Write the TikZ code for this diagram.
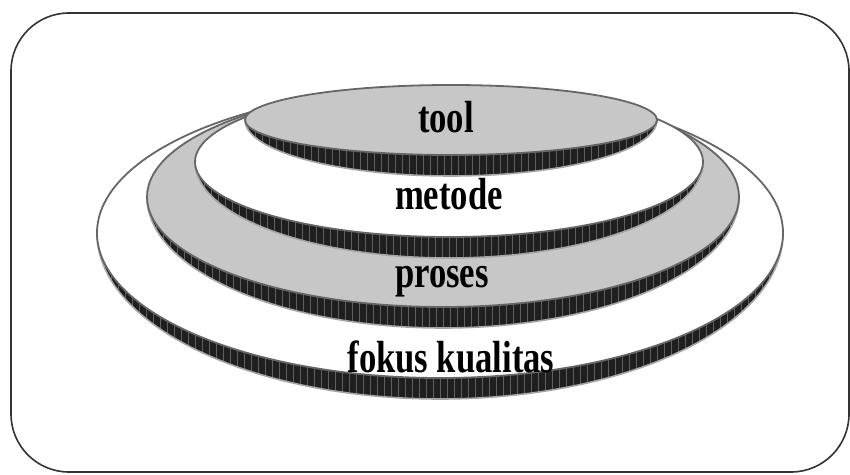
\documentclass[tikz,border=0pt]{standalone}
\usepackage{fontspec}
\setmainfont{Liberation Serif}[FakeStretch=0.77]

% one disc of the stack: centre x, centre y, x radius, y radius, face colour
\newcommand{\disc}[5]{%
  \begin{scope}
    \clip ({#1-#3},#2) arc[start angle=180,end angle=360,x radius=#3,y radius={#4+21}]
      arc[start angle=360,end angle=180,x radius=#3,y radius=#4] -- cycle;
    \fill[rimfill] ({#1-#3},{#2-#4-25}) rectangle ({#1+#3},#2);
    \foreach \hx in {-350,-343,...,350}
      \draw[hatch] ({#1+\hx},{#2-#4-25}) -- ++(0,{#4+25});
  \end{scope}
  \draw[rimedge] ({#1-#3},#2) arc[start angle=180,end angle=360,x radius=#3,y radius={#4+21}];
  \fill[#5] (#1,#2) ellipse[x radius=#3,y radius=#4];
  \draw[faceedge] (#1,#2) ellipse[x radius=#3,y radius=#4];
}

\begin{document}
\begin{tikzpicture}[x=1pt,y=1pt,
rimfill/.style={fill=black!88},
hatch/.style={draw=gray!75!black,line width=0.5pt},
rimedge/.style={draw=gray!70,line width=1.6pt},
faceedge/.style={draw=gray!80!black,line width=1.8pt},
greyface/.style={fill=black!22},
whiteface/.style={fill=white}
]

\tikzstyle{layer} = [anchor=base,inner sep=0pt,font=\bfseries\fontsize{45}{50}\selectfont]
\tikzstyle{frame} = [draw=black!80,line width=1.6pt,rounded corners=58pt]

  \useasboundingbox (0,0) rectangle (850,474);
  \draw[frame] (11,2) rectangle (849,461);

  \disc{440}{241}{343}{145}{whiteface}
  \disc{443}{277}{296}{110}{greyface}
  \disc{449}{312}{254}{75}{whiteface}
  \disc{451}{354}{206}{35}{greyface}

  \node (tool)   [layer] at (446,341)   {tool};
  \node (metode) [layer] at (449,264)   {metode};
  \node (proses) [layer] at (442,186)   {proses};
  \node (fokus)  [layer] at (451,102)   {fokus kualitas};

\end{tikzpicture}
\end{document}
